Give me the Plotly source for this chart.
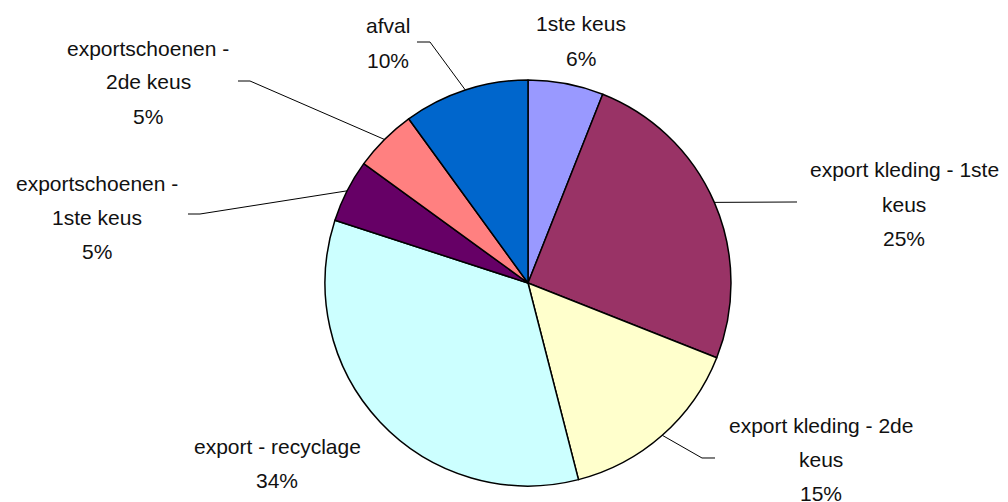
import numpy as np
import plotly.graph_objects as go

# Slices, clockwise from 12 o'clock
labels = ["1ste keus", "export kleding - 1ste keus", "export kleding - 2de keus",
          "export - recyclage", "exportschoenen - 1ste keus", "exportschoenen - 2de keus", "afval"]
values = [6, 25, 15, 34, 5, 5, 10]
colors = ["#9999FF", "#993366", "#FFFFCC", "#CCFFFF", "#660066", "#FF8080", "#0066CC"]

# How each label is broken into lines
label_lines = [
    ["1ste keus"],
    ["export kleding - 1ste", "keus"],
    ["export kleding - 2de", "keus"],
    ["export - recyclage"],
    ["exportschoenen -", "1ste keus"],
    ["exportschoenen -", "2de keus"],
    ["afval"],
]

W, H = 1008, 502
OFF = 8  # page body margin
cx, cy, R = 528, 283, 203  # pie centre and radius in window pixels

# label placement (centre x, y of first line) and leader-line bends, in window pixels
label_pos = [(581, 24), (904, 170), (821, 425), (277, 446), (97, 183), (148, 48), (388, 26)]
leader_bends = [None, [(797, 202)], [(702, 458), (715, 458)], None,
                [(200, 214), (188, 214)], [(250, 81), (238, 81)], [(430, 42), (417, 42)]]
line_gap = 34


def px(x, y):
    return (x - OFF) / W, 1 - (y - OFF) / H


fig = go.Figure()
fig.add_trace(go.Pie(
    labels=labels, values=values, sort=False, direction="clockwise", rotation=0,
    marker=dict(colors=colors, line=dict(color="black", width=1.5)),
    textinfo="none", hoverinfo="label+percent", showlegend=False,
    domain=dict(x=[px(cx - R, 0)[0], px(cx + R, 0)[0]], y=[px(0, cy + R)[1], px(0, cy - R)[1]]),
))

total = sum(values)
cum = np.cumsum(values) / total
mids = (cum - np.array(values) / total / 2) * 2 * np.pi

annotations = []
shapes = []
for i, lines in enumerate(label_lines):
    pct = f"{round(values[i] / total * 100)}%"
    x0, y0 = label_pos[i]
    for j, t in enumerate(lines + [pct]):
        ax, ay = px(x0, y0 + j * line_gap)
        annotations.append(dict(text=t, x=ax, y=ay, xref="paper", yref="paper",
                                xanchor="center", yanchor="middle", showarrow=False,
                                font=dict(family="Liberation Sans, Arial", size=21, color="#111111")))
    if leader_bends[i]:
        ex, ey = cx + R * np.sin(mids[i]), cy - R * np.cos(mids[i])
        pts = [(ex, ey)] + leader_bends[i]
        path = "M " + " L ".join(f"{px(a, b)[0]:.5f},{px(a, b)[1]:.5f}" for a, b in pts)
        shapes.append(dict(type="path", path=path, xref="paper", yref="paper",
                           line=dict(color="black", width=1)))

fig.update_layout(
    width=W, height=H, margin=dict(l=0, r=0, t=0, b=0),
    paper_bgcolor="white", plot_bgcolor="white",
    annotations=annotations, shapes=shapes,
)

fig.write_html("out.html")
